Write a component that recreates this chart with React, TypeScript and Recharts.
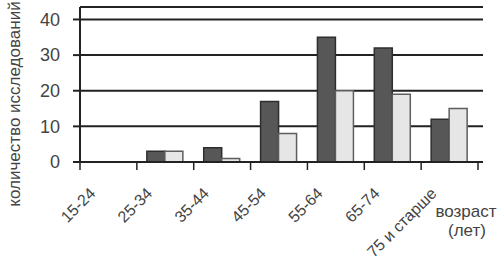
import React from "react";
import { BarChart, Bar, XAxis, YAxis, CartesianGrid } from "recharts";

const ageGroups = ["15-24", "25-34", "35-44", "45-54", "55-64", "65-74", "75 и старше"];
const darkSeries = [0, 3, 4, 17, 35, 32, 12];
const lightSeries = [0, 3, 1, 8, 20, 19, 15];
const yTicks = [0, 10, 20, 30, 40];

const data = ageGroups.map((age, i) => ({
    age,
    dark: darkSeries[i],
    light: lightSeries[i],
}));

const FONT = '"Liberation Sans", Arial, sans-serif';
const TEXT = "#444";
const LINE = "#222";

function AgeTick(props: any) {
    const { x, y, payload, index } = props;
    const half = payload?.offset || 28.4;
    const last = index === ageGroups.length - 1;
    const tx = x - 12;
    const ty = y + 32.5;
    return (
        <g>
            <line x1={x - half} y1={y} x2={x - half} y2={y + 8} stroke={LINE} strokeWidth={1.5} />
            {last && <line x1={x + half} y1={y} x2={x + half} y2={y + 8} stroke={LINE} strokeWidth={1.5} />}
            <text
                x={tx}
                y={ty}
                transform={`rotate(-45 ${tx} ${ty})`}
                textAnchor="end"
                fontSize={16}
                fontFamily={FONT}
                fill={TEXT}
            >
                {payload.value}
            </text>
        </g>
    );
}

export default function App() {
    return (
        <div style={{ position: "absolute", left: 0, top: 0, width: 498, height: 262, background: "#fff" }}>
            <BarChart
                width={498}
                height={262}
                data={data}
                margin={{ top: 7, right: 15, left: 0, bottom: 0 }}
                barCategoryGap={10}
                barGap={0}
            >
                <CartesianGrid vertical={false} stroke={LINE} strokeWidth={2} />
                <XAxis
                    dataKey="age"
                    height={100}
                    padding={{ left: 0, right: 5 }}
                    axisLine={{ stroke: LINE, strokeWidth: 2 }}
                    tickLine={false}
                    tickSize={0}
                    tickMargin={0}
                    interval={0}
                    tick={<AgeTick />}
                    label={{
                        content: () => (
                            <text x={466} y={217} textAnchor="middle" fontSize={17} fontFamily={FONT} fill={TEXT}>
                                <tspan x={466}>возраст</tspan>
                                <tspan x={467} dy={19}>(лет)</tspan>
                            </text>
                        ),
                    }}
                />
                <YAxis
                    width={80}
                    domain={[0, 43.5]}
                    ticks={yTicks}
                    allowDataOverflow
                    axisLine={{ stroke: LINE, strokeWidth: 2 }}
                    tickLine={{ stroke: LINE, strokeWidth: 2 }}
                    tickSize={7}
                    tickMargin={13}
                    tick={{ fill: TEXT, fontSize: 18, fontFamily: FONT }}
                    label={{
                        content: () => (
                            <text
                                x={14}
                                y={104}
                                transform="rotate(-90 14 104)"
                                textAnchor="middle"
                                dominantBaseline="central"
                                fontSize={17}
                                fontFamily={FONT}
                                fill={TEXT}
                            >
                                количество исследований
                            </text>
                        ),
                    }}
                />
                <Bar dataKey="dark" fill="#575757" stroke="#2e2e2e" strokeWidth={1.5} isAnimationActive={false} />
                <Bar dataKey="light" fill="#e6e6e6" stroke="#5e5e5e" strokeWidth={1.5} isAnimationActive={false} />
            </BarChart>
        </div>
    );
}
